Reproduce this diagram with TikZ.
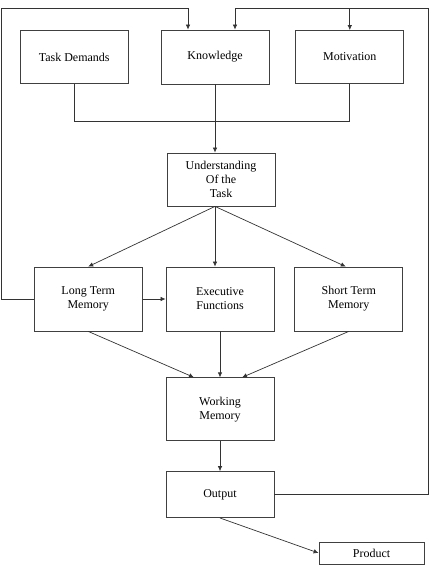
\documentclass[tikz,border=0pt]{standalone}
\usepackage{fontspec}
\setmainfont{Liberation Serif}
\usepackage{tikz}
\usetikzlibrary{arrows.meta,positioning}

\begin{document}
\begin{tikzpicture}[
    x=1pt, y=1pt,
    node distance=30pt and 25pt,
    font=\fontsize{12}{14}\selectfont,
    >={Latex[length=5pt,width=4.5pt]},
    % Styles
    box/.style={rectangle, draw=black!75, line width=0.8pt, minimum width=108pt, minimum height=53pt, align=center, inner sep=2pt},
    tallbox/.style={box, minimum height=64pt},
    arrow/.style={->, line width=0.7pt, draw=black!80},
    line/.style={-, line width=0.7pt, draw=black!80}
]
\useasboundingbox (0,0) rectangle (431,-570);

% --- Inputs ---
\node[box, minimum height=54pt] (know) at (215,-57) {Knowledge};
\node[box, left=32pt of know] (task) {Task Demands};
\node[box, right=26pt of know] (motiv) {Motivation};

% --- Understanding ---
\node[box] (under) at (221,-179.5) {Understanding\\Of the\\Task};

% --- Memory / Functions ---
\node[tallbox] (ef) at (220,-299) {Executive\\Functions};
\node[tallbox, left=23pt of ef] (ltm) {Long Term\\Memory};
\node[tallbox, right=20pt of ef] (stm) {Short Term\\Memory};

% --- Working Memory and Output ---
\node[box, minimum height=63pt, below=46pt of ef] (wm) {Working\\Memory};
\node[box, minimum height=46pt, below=30pt of wm] (out) {Output};
\node[box, minimum width=105pt, minimum height=22pt] (prod) at (371.5,-553) {Product};

% feedback corners
\coordinate (fbL) at (1,-8);
\coordinate (fbR) at (428,-8);

% --- Connections ---
% Inputs to Understanding
\draw[line] (task.south) -- ++(0,-37) -| (motiv.south);
\draw[arrow] (know.south) -- (know.south |- under.north);

% Understanding to memory
\draw[arrow] ([xshift=-6pt]under.south) -- (ltm.north);
\draw[arrow] ([xshift=-6pt]under.south) -- ([xshift=-5pt]ef.north);
\draw[arrow] ([xshift=-6pt]under.south) -- ([xshift=-3pt]stm.north);
\draw[arrow] (ltm) -- (ef);

% Memory to Working Memory
\draw[arrow] (ltm.south) -- ([xshift=-26pt]wm.north);
\draw[arrow] (ef.south) -- (ef.south |- wm.north);
\draw[arrow] (stm.south) -- ([xshift=22pt]wm.north);

% Output
\draw[arrow] (wm) -- (out);
\draw[arrow] (out.south) -- (prod.west);

% Feedback loops
\draw[arrow] (ltm.west) -| (fbL) -| ([xshift=-27pt]know.north);
\draw[arrow] (out.east) -| (fbR) -| ([xshift=20pt]know.north);
\draw[arrow] (motiv.north |- fbR) -- (motiv.north);

\end{tikzpicture}
\end{document}
